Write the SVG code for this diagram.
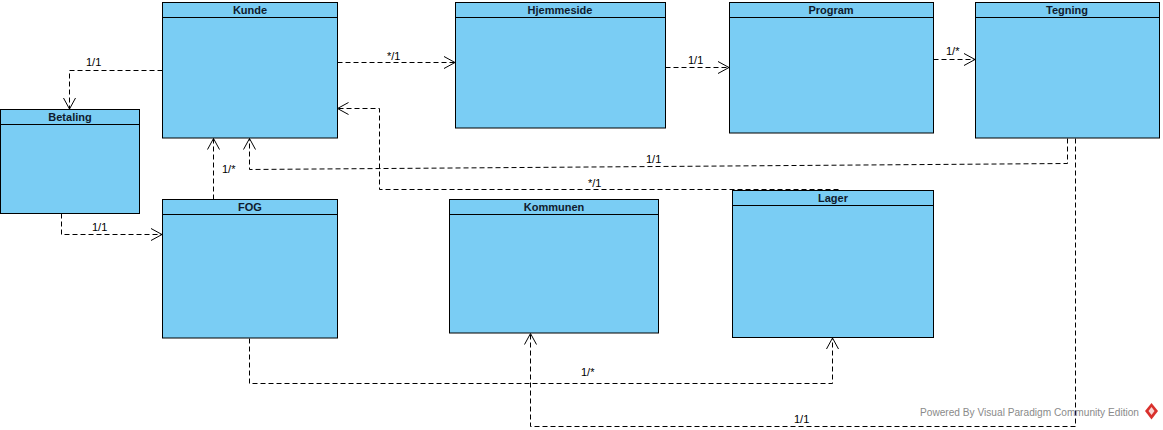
<svg xmlns="http://www.w3.org/2000/svg" width="1163" height="430" viewBox="0 0 1163 430">
<style>
.box{fill:#7acdf4;stroke:#000;stroke-width:1}
.hl{stroke:#000;stroke-width:1}
.title{font-family:"Liberation Sans",Arial,sans-serif;font-size:11px;font-weight:bold;fill:#0f1b2d;text-anchor:middle}
.conn{fill:none;stroke:#000;stroke-width:1;stroke-dasharray:5,3}
.lbl{font-family:"Liberation Sans",Arial,sans-serif;font-size:11px;fill:#000}
.wm{font-family:"Liberation Sans",Arial,sans-serif;font-size:10px;fill:#8a8a8a}
</style>
<defs>
<marker id="arr" viewBox="0 0 12 14" refX="11" refY="7" markerWidth="12" markerHeight="14" orient="auto" markerUnits="userSpaceOnUse">
<path d="M0,1 L11,7 L0,13" fill="none" stroke="#000" stroke-width="1"/>
</marker>
</defs>
<rect width="1163" height="430" fill="#fff"/>
<g id="connectors">
<polyline class="conn" points="162.5,70.5 69.5,70.5 69.5,109" marker-end="url(#arr)"/>
<polyline class="conn" points="337.5,62.5 455,62.5" marker-end="url(#arr)"/>
<polyline class="conn" points="665.5,67.5 729,67.5" marker-end="url(#arr)"/>
<polyline class="conn" points="933.5,59.5 975,59.5" marker-end="url(#arr)"/>
<polyline class="conn" points="61.5,213.5 61.5,234.5 162,234.5" marker-end="url(#arr)"/>
<polyline class="conn" points="213.5,199.5 213.5,138.5" marker-end="url(#arr)"/>
<polyline class="conn" points="1067.5,138.5 1067.5,163.5 249.5,169.5 249.5,138.5" marker-end="url(#arr)"/>
<polyline class="conn" points="838.5,189.5 379.5,189.5 379.5,108.5 337.5,108.5" marker-end="url(#arr)"/>
<polyline class="conn" points="249.5,338.5 249.5,383.5 832.5,383.5 832.5,338" marker-end="url(#arr)"/>
<polyline class="conn" points="1075.5,138.5 1075.5,426.5 530.5,426.5 530.5,333.5" marker-end="url(#arr)"/>
<text class="lbl" x="86" y="66">1/1</text>
<text class="lbl" x="387" y="60">*/1</text>
<text class="lbl" x="688" y="64">1/1</text>
<text class="lbl" x="946" y="55">1/*</text>
<text class="lbl" x="222" y="173">1/*</text>
<text class="lbl" x="92" y="231">1/1</text>
<text class="lbl" x="646" y="163">1/1</text>
<text class="lbl" x="588" y="187">*/1</text>
<text class="lbl" x="581" y="376">1/*</text>
<text class="lbl" x="794" y="423">1/1</text>
</g>
<g id="Kunde">
<rect class="box" x="162.5" y="2.5" width="175" height="135.5"/>
<line class="hl" x1="162.5" y1="17.5" x2="337.5" y2="17.5"/>
<text class="title" x="250" y="14">Kunde</text>
</g>
<g id="Hjemmeside">
<rect class="box" x="455.5" y="2.5" width="210" height="125.5"/>
<line class="hl" x1="455.5" y1="17.5" x2="665.5" y2="17.5"/>
<text class="title" x="560" y="14">Hjemmeside</text>
</g>
<g id="Program">
<rect class="box" x="729.5" y="2.5" width="204" height="130.5"/>
<line class="hl" x1="729.5" y1="17.5" x2="933.5" y2="17.5"/>
<text class="title" x="831" y="14">Program</text>
</g>
<g id="Tegning">
<rect class="box" x="975.5" y="2.5" width="184" height="135.5"/>
<line class="hl" x1="975.5" y1="17.5" x2="1159.5" y2="17.5"/>
<text class="title" x="1067" y="14">Tegning</text>
</g>
<g id="Betaling">
<rect class="box" x="0.5" y="109.5" width="139" height="104"/>
<line class="hl" x1="0.5" y1="124.5" x2="139.5" y2="124.5"/>
<text class="title" x="70" y="121">Betaling</text>
</g>
<g id="FOG">
<rect class="box" x="162.5" y="199.5" width="175" height="138.5"/>
<line class="hl" x1="162.5" y1="214.5" x2="337.5" y2="214.5"/>
<text class="title" x="250" y="211">FOG</text>
</g>
<g id="Kommunen">
<rect class="box" x="449.5" y="199.5" width="209" height="133.5"/>
<line class="hl" x1="449.5" y1="214.5" x2="658.5" y2="214.5"/>
<text class="title" x="554" y="211">Kommunen</text>
</g>
<g id="Lager">
<rect class="box" x="732.5" y="190.5" width="201" height="147"/>
<line class="hl" x1="732.5" y1="205.5" x2="933.5" y2="205.5"/>
<text class="title" x="833" y="202">Lager</text>
</g>
<g id="watermark">
<text class="wm" x="920" y="416" textLength="219" lengthAdjust="spacingAndGlyphs">Powered By  Visual Paradigm Community Edition</text>
<path d="M1151.5,403 L1158,411 L1151.5,419.5 L1145,411 Z" fill="#d9302c"/>
<path d="M1151.5,407 L1154.5,411 L1151.5,415 L1148.5,411 Z" fill="#fff" opacity="0.8"/>
</g>
</svg>
